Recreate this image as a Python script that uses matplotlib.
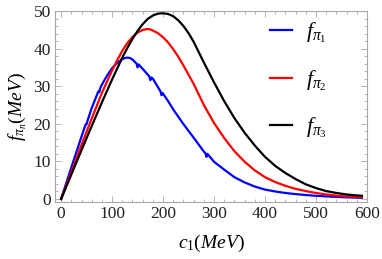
import matplotlib
matplotlib.use("Agg")
import matplotlib.pyplot as plt
from matplotlib.ticker import MultipleLocator

plt.rcParams['font.family'] = ['Liberation Serif', 'DejaVu Serif']
plt.rcParams['mathtext.fontset'] = 'custom'
plt.rcParams['mathtext.rm'] = 'Liberation Serif'
plt.rcParams['mathtext.it'] = 'Liberation Serif:italic'

# ---- data ----
c_f1 = [0, 20, 40, 48, 50, 52, 60, 73, 75, 77, 80, 90, 100, 110, 120, 125, 130, 135, 140,
        148, 150, 152, 160, 173, 175, 177, 180, 195, 197, 199, 200, 210, 220, 240, 260,
        280, 283, 285, 287, 300, 320, 340, 360, 380, 400, 420, 440, 460, 480, 500, 520,
        540, 560, 580, 590]
f1 = [0, 8.4, 16.6, 19.8, 19.9, 20.9, 24.2, 28.6, 28.4, 29.6, 30.4, 32.8, 34.8, 36.2,
      37.2, 37.5, 37.6, 37.5, 37.1, 36.0, 35.0, 35.8, 34.6, 32.6, 31.6, 32.3, 32.0, 28.6,
      27.6, 28.2, 28.0, 26.0, 23.8, 19.9, 16.3, 12.6, 12.2, 11.2, 12.0, 9.9, 7.8, 5.8,
      4.4, 3.3, 2.5, 2.0, 1.6, 1.3, 1.05, 0.85, 0.7, 0.55, 0.45, 0.35, 0.3]

c_f2 = [0, 20, 40, 60, 80, 100, 110, 120, 130, 140, 150, 160, 168, 175, 180, 190, 200, 210,
        220, 230, 240, 260, 280, 300, 320, 340, 360, 380, 400, 420, 440, 460, 480, 500,
        520, 540, 560, 580, 590]
f2 = [0, 7.2, 14.4, 21.4, 28.2, 34.2, 36.9, 39.4, 41.5, 43.1, 44.3, 44.95, 45.2, 45.1,
      44.8, 44.1, 43.0, 41.6, 39.8, 37.8, 35.5, 30.6, 25.0, 20.2, 16.2, 12.7, 9.9, 7.6,
      5.8, 4.5, 3.5, 2.7, 2.1, 1.6, 1.2, 0.9, 0.7, 0.55, 0.5]

c_f3 = [0, 20, 40, 60, 80, 100, 120, 130, 140, 150, 160, 170, 180, 190, 200, 210, 220,
        230, 240, 250, 260, 280, 300, 320, 340, 360, 380, 400, 420, 440, 460, 480, 500,
        520, 540, 560, 580, 590]
f3 = [0, 6.5, 13.0, 19.4, 25.7, 31.8, 37.6, 40.2, 42.6, 44.7, 46.5, 47.9, 48.8, 49.3,
      49.4, 49.2, 48.6, 47.5, 46.0, 44.1, 41.8, 36.3, 31.0, 26.0, 21.5, 17.6, 14.2, 11.2,
      8.8, 6.9, 5.3, 3.9, 2.9, 2.1, 1.6, 1.2, 0.95, 0.85]

labels = [r'$\mathit{f_{\pi_1}}$', r'$\mathit{f_{\pi_2}}$', r'$\mathit{f_{\pi_3}}$']
colors = ['#0000ff', '#ff0000', '#000000']

x_ticks = [0, 100, 200, 300, 400, 500, 600]
y_ticks = [0, 10, 20, 30, 40, 50]

# ---- figure ----
W, H = 382, 259
fig = plt.figure(figsize=(W / 100, H / 100), dpi=100)
ax = fig.add_axes([55 / W, 1 - 202 / H, (367 - 55) / W, (202 - 11) / H])

for cx, fy, lab, col in zip([c_f1, c_f2, c_f3], [f1, f2, f3], labels, colors):
    ax.plot(cx, fy, color=col, lw=1.6, label=lab, solid_joinstyle='round')

ax.set_xlim(-12, 600)
ax.set_ylim(-0.8, 50)
ax.set_xticks(x_ticks)
ax.set_yticks(y_ticks)
ax.xaxis.set_minor_locator(MultipleLocator(20))
ax.yaxis.set_minor_locator(MultipleLocator(2))

frame_col = '#a8a8a8'
for s in ax.spines.values():
    s.set_color(frame_col)
    s.set_linewidth(0.8)
ax.tick_params(which='both', direction='in', top=True, right=True, color=frame_col,
               labelsize=12.5, labelcolor='#222222', width=0.6)
ax.tick_params(which='major', length=4, pad=3)
ax.tick_params(which='minor', length=2)

ax.set_xlabel(r'$\mathit{c_1(MeV)}$', fontsize=14, labelpad=8)
ax.set_ylabel(r'$\mathit{f_{\pi_n}(MeV)}$', fontsize=14, labelpad=3)

leg = ax.legend(loc='upper left', bbox_to_anchor=(270 / W, 1 - 21 / H),
                bbox_transform=fig.transFigure, frameon=False, fontsize=16,
                handlelength=1.0, handletextpad=0.6, labelspacing=1.05,
                borderpad=0, borderaxespad=0)

fig.savefig('out.png', dpi=100)
